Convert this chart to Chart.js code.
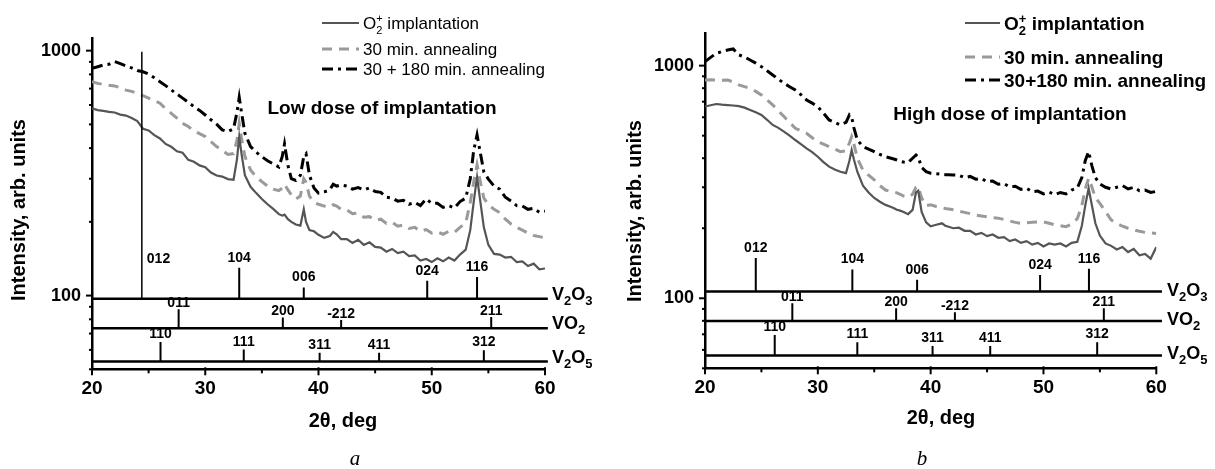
<!DOCTYPE html>
<html>
<head>
<meta charset="utf-8">
<script src="https://cdn.jsdelivr.net/npm/chart.js@4.4.1/dist/chart.umd.min.js"></script>
<style>
  html, body { margin: 0; padding: 0; background: #fff; }
  .panel { position: absolute; top: 0; height: 469px; }
  #panelA { left: 0; width: 607px; }
  #panelB { left: 607px; width: 608px; }
</style>
</head>
<body>
<div class="panel" id="panelA"><canvas id="chartA"></canvas></div>
<div class="panel" id="panelB"><canvas id="chartB"></canvas></div>
<script>
// 2theta grid (deg), shared by all six curves
const twoTheta = [20,20.5,21,21.5,22,22.5,23,23.5,24,24.5,25,25.5,26,26.5,27,27.5,28,28.5,29,29.5,30,30.5,31,31.5,32,32.5,
  32.8,33.0,33.2,33.5,
  34,34.5,35,35.5,36,36.5,
  36.8,37.0,37.3,37.6,38,38.4,38.7,38.9,39.2,39.6,
  40,40.5,41,41.3,41.6,42,
  42.5,43,43.5,44,44.5,45,45.5,46,46.5,47,47.5,48,48.5,49,49.5,50,50.5,51,51.5,52,52.5,53,
  53.4,53.7,54.0,54.3,54.6,
  55,55.5,56,56.5,57,57.5,58,58.5,59,59.5,60];

// panel a - low dose
const lowImpl = [582,572,568,562,559,548,543,531,516,480,472,452,438,416,405,388,383,358,352,340,334,318,309,306,299,297,
  360,445,380,310,
  278,262,248,236,226,215,
  212,214,205,200,195,193,225,200,185,183,
  177,172,175,182,178,170,
  170,164,169,161,165,158,157,151,155,149,151,145,146,139,141,137,142,138,143,139,147,154,
  185,240,305,240,190,
  161,148,147,143,144,137,138,132,135,128,129];
const low30 = [747,735,728,722,718,705,690,682,670,655,640,625,610,580,555,530,505,490,470,458,446,425,406,392,377,380,
  430,505,440,370,
  326,305,292,280,272,268,
  275,285,270,258,248,255,300,290,255,240,
  236,232,230,235,232,225,
  224,216,217,209,210,203,205,197,199,192,194,188,190,183,186,180,182,178,183,181,190,198,
  240,290,342,290,250,
  235,225,218,205,196,190,185,180,176,174,172];
const low210 = [847,860,874,880,902,885,866,850,830,820,803,775,747,720,691,665,640,615,591,570,546,522,501,475,467,480,
  560,645,560,460,
  406,385,369,355,345,335,
  370,416,340,300,295,310,370,379,310,275,
  262,265,270,285,280,283,
  280,272,276,270,275,266,264,252,250,243,245,236,240,233,248,238,238,229,233,228,242,250,
  300,390,453,380,320,
  299,280,272,252,243,233,232,225,227,219,221];

// panel b - high dose
const highImpl = [667,676,684,680,677,674,670,660,645,630,614,585,556,540,520,500,479,460,441,425,406,385,368,358,350,345,
  390,434,395,350,
  305,285,270,260,252,247,
  243,240,238,235,230,240,285,290,235,212,
  204,207,210,205,203,200,
  201,195,195,188,191,185,188,182,183,176,179,173,176,170,173,167,172,170,172,167,173,175,
  205,250,297,250,210,
  186,172,168,162,166,158,163,153,155,148,166];
const high30 = [868,870,868,866,868,850,826,812,800,775,748,712,678,640,604,570,538,525,512,490,471,460,449,438,427,430,
  465,495,460,400,
  356,338,323,305,292,288,
  286,284,280,275,272,280,300,302,270,250,
  252,248,245,243,242,240,
  237,234,231,228,226,224,222,221,218,215,212,210,211,212,213,213,210,207,205,203,208,220,
  250,295,328,300,270,
  256,236,217,210,204,200,197,194,192,191,190];
const high210 = [1040,1085,1130,1150,1168,1180,1112,1090,1058,1025,990,950,912,875,840,812,786,750,712,690,666,625,584,570,556,570,
  614,600,540,479,
  449,438,427,415,406,400,
  396,393,388,385,383,400,413,405,365,350,
  345,343,341,340,340,339,
  338,330,334,325,327,317,319,309,311,301,303,294,297,287,289,281,286,279,285,281,292,298,
  330,390,427,370,330,
  310,300,295,300,305,295,300,290,292,285,288];

// reference line patterns: hkl, position (deg), stick top, baselines
const v2o3Hkl = ['012','104','006','024','116'];
const vo2Hkl = ['011','200','-212','211'];
const v2o5Hkl = ['110','111','311','411','312'];

const lowV2O3Pos = [24.4, 33.0, 38.7, 49.6, 54.0];
const lowV2O3Top = [990, 130, 108, 115, 119];
const lowVO2Pos = [27.65, 36.85, 42.0, 55.25];
const lowVO2Top = [88, 81.4, 79.4, 81.8];
const lowV2O5Pos = [26.05, 33.4, 40.1, 45.35, 54.6];
const lowV2O5Top = [64.7, 60.2, 58.4, 58.4, 59.8];
const lowBase = [97, 73.6, 53.8];

const highV2O3Pos = [24.5, 33.06, 38.8, 49.7, 54.03];
const highV2O3Top = [149, 133, 120, 126, 134];
const highVO2Pos = [27.74, 36.94, 42.15, 55.35];
const highVO2Top = [95.2, 90.6, 87.1, 90.6];
const highV2O5Pos = [26.18, 33.5, 40.17, 45.28, 54.76];
const highV2O5Top = [69.5, 64.7, 62.3, 62.3, 64.7];
const highBase = [106.8, 79.9, 56.8];

const yMajor = [100, 1000];
const yMinor = [50, 60, 70, 80, 90, 200, 300, 400, 500, 600, 700, 800, 900];

const FONT = '"Liberation Sans", Arial, sans-serif';

// series styles
const styles = [
  { borderColor: '#555555', borderWidth: 2.2, borderDash: [] },
  { borderColor: '#9a9a9a', borderWidth: 3, borderDash: [10, 7] },
  { borderColor: '#000000', borderWidth: 3, borderDash: [11, 5, 3, 5] }
];

function curve(values, st) {
  return {
    data: twoTheta.map((x, i) => ({ x: x, y: values[i] })),
    borderColor: st.borderColor,
    borderWidth: st.borderWidth,
    borderDash: st.borderDash,
    pointRadius: 0,
    tension: 0,
    fill: false
  };
}

function sticks(pos, top, base, width) {
  const pts = [];
  pos.forEach((p, i) => {
    pts.push({ x: p, y: base }, { x: p, y: top[i] }, { x: p, y: null });
  });
  return { data: pts, borderColor: '#000', borderWidth: width, pointRadius: 0, spanGaps: false, fill: false };
}

function baseline(base, xEnd) {
  return { data: [{ x: 20, y: base }, { x: xEnd, y: base }], borderColor: '#000', borderWidth: 2.5, pointRadius: 0, clip: false };
}

// text with sub/superscripts, left aligned, alphabetic baseline
function drawRuns(ctx, x, y, runs, weight) {
  let cx = x;
  ctx.textAlign = 'left';
  ctx.textBaseline = 'alphabetic';
  runs.forEach(r => {
    ctx.font = weight + ' ' + r.size + 'px ' + FONT;
    ctx.fillText(r.text, cx, y + (r.dy || 0));
    if (!r.stay) cx += ctx.measureText(r.text).width;
  });
}

function phaseRuns(name, s) {
  const sub = Math.round(s * 0.72);
  if (name === 'V2O3') return [{ text: 'V', size: s }, { text: '2', size: sub, dy: 5 }, { text: 'O', size: s }, { text: '3', size: sub, dy: 5 }];
  if (name === 'VO2') return [{ text: 'VO', size: s }, { text: '2', size: sub, dy: 5 }];
  return [{ text: 'V', size: s }, { text: '2', size: sub, dy: 5 }, { text: 'O', size: s }, { text: '5', size: sub, dy: 5 }];
}

function extrasPlugin(p) {
  return {
    id: 'extras',
    afterDraw(chart) {
      const ctx = chart.ctx;
      const xs = chart.scales.x, ys = chart.scales.y;
      const area = chart.chartArea;
      ctx.save();
      ctx.strokeStyle = '#000';
      ctx.fillStyle = '#000';

      // x ticks, every 5 deg
      ctx.lineWidth = 2;
      for (let v = 20; v <= 60; v += 5) {
        const px = xs.getPixelForValue(v);
        const major = v % 10 === 0;
        ctx.beginPath();
        ctx.moveTo(px, area.bottom - (major ? 2 : 0));
        ctx.lineTo(px, area.bottom + (major ? 6 : 4));
        ctx.stroke();
      }
      // y ticks
      yMajor.forEach(v => {
        const py = ys.getPixelForValue(v);
        ctx.beginPath(); ctx.moveTo(area.left, py); ctx.lineTo(area.left - 6, py); ctx.stroke();
      });
      yMinor.forEach(v => {
        const py = ys.getPixelForValue(v);
        ctx.beginPath(); ctx.moveTo(area.left, py); ctx.lineTo(area.left - 3, py); ctx.stroke();
      });

      // hkl labels above the sticks, phase names at the right
      ctx.font = 'bold 14px ' + FONT;
      p.phases.forEach(ph => {
        ctx.font = 'bold 14px ' + FONT;
        ctx.textBaseline = 'alphabetic';
        ph.pos.forEach((pos, i) => {
          if (ph.top[i] > 500) {
            // long marker line: label sits to its right
            ctx.textAlign = 'left';
            ctx.fillText(ph.hkl[i], xs.getPixelForValue(pos) + 5, ys.getPixelForValue(p.tallLabelY));
          } else {
            ctx.textAlign = 'center';
            ctx.fillText(ph.hkl[i], xs.getPixelForValue(pos), ys.getPixelForValue(ph.top[i]) - ph.gap);
          }
        });
        drawRuns(ctx, p.phaseX, ys.getPixelForValue(ph.base) + p.phaseDy, phaseRuns(ph.name, 18), 'bold');
      });

      // legend
      const lg = p.legend;
      const texts = [
        [{ text: 'O', size: lg.size }, { text: '2', size: lg.size - 6, dy: 5, stay: true }, { text: '+', size: lg.size - 6, dy: -7 }, { text: ' implantation', size: lg.size }],
        [{ text: '30 min. annealing', size: lg.size }],
        [{ text: lg.third, size: lg.size }]
      ];
      styles.forEach((st, i) => {
        const y = lg.rows[i];
        ctx.save();
        ctx.strokeStyle = st.borderColor;
        ctx.lineWidth = st.borderWidth;
        ctx.setLineDash(st.borderDash);
        ctx.beginPath(); ctx.moveTo(lg.x0, y); ctx.lineTo(lg.x1, y); ctx.stroke();
        ctx.restore();
        drawRuns(ctx, lg.tx, y + Math.round(lg.size * 0.36), texts[i], lg.weight);
      });

      // inner caption
      ctx.font = 'bold 19px ' + FONT;
      ctx.textAlign = 'center';
      ctx.textBaseline = 'middle';
      ctx.fillText(p.caption, p.captionX, p.captionY);

      // axis titles
      ctx.font = 'bold 20px ' + FONT;
      ctx.fillText('2\u03b8, deg', p.xTitleX, p.xTitleY);
      ctx.save();
      ctx.translate(p.yTitleX, p.yTitleY);
      ctx.rotate(-Math.PI / 2);
      ctx.fillText('Intensity, arb. units', 0, 0);
      ctx.restore();

      // panel letter
      ctx.font = 'italic 21px "Liberation Serif", "Times New Roman", serif';
      ctx.textBaseline = 'alphabetic';
      ctx.fillText(p.letter, p.letterX, 465);
      ctx.restore();
    }
  };
}

function makePanel(canvasId, p) {
  const datasets = p.phases.map(ph => baseline(ph.base, p.lineEnd));
  p.phases.forEach(ph => {
    // the long 012 marker in panel a is drawn thinner
    if (ph.top.some(t => t > 500)) {
      datasets.push(sticks(ph.pos.slice(0, 1), ph.top.slice(0, 1), ph.base, 1.5));
      datasets.push(sticks(ph.pos.slice(1), ph.top.slice(1), ph.base, 2));
    } else {
      datasets.push(sticks(ph.pos, ph.top, ph.base, 2));
    }
  });
  p.series.forEach((s, i) => datasets.push(curve(s, styles[i])));

  new Chart(document.getElementById(canvasId), {
    type: 'line',
    data: { datasets: datasets },
    options: {
      responsive: true,
      maintainAspectRatio: false,
      animation: false,
      layout: { padding: p.padding },
      plugins: { legend: { display: false }, tooltip: { enabled: false } },
      scales: {
        x: {
          type: 'linear', min: 20, max: 60,
          grid: { display: true, drawOnChartArea: false, drawTicks: false },
          border: { display: true, width: 2.5, color: '#000' },
          ticks: { stepSize: 10, padding: 8, maxRotation: 0, color: '#000', font: { family: FONT, size: 19, weight: 'bold' } },
          afterFit: s => { s.height = 60; }
        },
        y: {
          type: 'logarithmic', min: 50, max: p.yMax, bounds: 'data',
          grid: { display: true, drawOnChartArea: false, drawTicks: false },
          border: { display: true, width: 2.5, color: '#000' },
          ticks: { padding: 11, color: '#000', font: { family: FONT, size: 18, weight: 'bold' }, callback: v => String(v) },
          afterBuildTicks: s => { s.ticks = yMajor.map(v => ({ value: v })); },
          afterFit: s => { s.width = 60; }
        }
      }
    },
    plugins: [extrasPlugin(p)]
  });
}

makePanel('chartA', {
  yMax: 1120,
  padding: { left: 32, right: 62, top: 38.6, bottom: 39.7 },
  series: [lowImpl, low30, low210],
  phases: [
    { name: 'V2O3', pos: lowV2O3Pos, top: lowV2O3Top, hkl: v2o3Hkl, base: lowBase[0], gap: 6 },
    { name: 'VO2', pos: lowVO2Pos, top: lowVO2Top, hkl: vo2Hkl, base: lowBase[1], gap: 2 },
    { name: 'V2O5', pos: lowV2O5Pos, top: lowV2O5Top, hkl: v2o5Hkl, base: lowBase[2], gap: 4 }
  ],
  tallLabelY: 136,
  lineEnd: 60.25,
  phaseX: 552, phaseDy: 1,
  legend: { x0: 322, x1: 359, tx: 363, rows: [23, 49, 69], size: 17, weight: 'normal', third: '30 + 180 min. annealing' },
  caption: 'Low dose of implantation', captionX: 382, captionY: 109,
  xTitleX: 343, xTitleY: 421, yTitleX: 19, yTitleY: 210,
  letter: 'a', letterX: 355
});

makePanel('chartB', {
  yMax: 1380,
  padding: { left: 38, right: 58.7, top: 33.1, bottom: 40.7 },
  series: [highImpl, high30, high210],
  phases: [
    { name: 'V2O3', pos: highV2O3Pos, top: highV2O3Top, hkl: v2o3Hkl, base: highBase[0], gap: 6 },
    { name: 'VO2', pos: highVO2Pos, top: highVO2Top, hkl: vo2Hkl, base: highBase[1], gap: 2 },
    { name: 'V2O5', pos: highV2O5Pos, top: highV2O5Top, hkl: v2o5Hkl, base: highBase[2], gap: 4 }
  ],
  tallLabelY: 136,
  lineEnd: 60.5,
  phaseX: 560, phaseDy: 4,
  legend: { x0: 358, x1: 393, tx: 397, rows: [23, 57, 80], size: 19, weight: 'bold', third: '30+180 min. annealing' },
  caption: 'High dose of implantation', captionX: 403, captionY: 115,
  xTitleX: 334, xTitleY: 418, yTitleX: 28, yTitleY: 211,
  letter: 'b', letterX: 315
});
</script>
</body>
</html>
